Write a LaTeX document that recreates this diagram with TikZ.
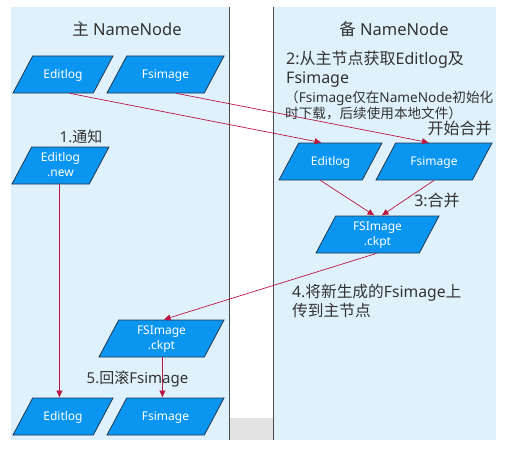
\documentclass[tikz,border=0pt]{standalone}
\usepackage{fontspec}
\setmainfont{Noto Sans}
\newfontfamily\zhfont{Noto Sans CJK SC}
\newcommand{\zh}[1]{{\zhfont #1}}
\usetikzlibrary{shapes.geometric,arrows.meta}
\definecolor{panelblue}{HTML}{DFF1FB}
\definecolor{boxblue}{HTML}{0A96F0}
\definecolor{boxline}{HTML}{23384F}
\definecolor{arrowred}{HTML}{BC1640}
\definecolor{txtgray}{HTML}{333333}

\begin{document}
\begin{tikzpicture}[x=1pt,y=-1pt]
        \tikzstyle{fnode} = [trapezium, trapezium left angle=62, trapezium right angle=118, trapezium stretches body, draw=boxline, fill=boxblue, line width=0.8pt, text=white, font=\fontsize{12}{14.5}\selectfont, align=center, inner xsep=1pt, inner ysep=0pt, text height=22.5pt, text depth=14.5pt, minimum height=37pt]
        \tikzstyle{fnodeii} = [fnode, text height=29pt, text depth=8pt]
        \tikzstyle{flow} = [draw=arrowred, line width=0.7pt, -{Latex[length=7pt,width=6.5pt]}]
        \tikzstyle{lbl} = [text=txtgray, font=\fontsize{15.7}{19.5}\selectfont, inner sep=0pt]

        \useasboundingbox (0,0) rectangle (508,452);
        % two lanes
        \fill[panelblue] (11,7) rectangle (229,440);
        \fill[panelblue] (273,7) rectangle (496,440);
        \fill[black!11] (229,418) rectangle (273,440);
        \draw[line width=1pt, black!70] (229,7) -- (229,440);
        \draw[line width=1pt, black!70] (273,7) -- (273,440);

        \node[lbl, font=\fontsize{16.5}{19}\selectfont] (titleA) at (127,29) {\zh{主} NameNode};
        \node[lbl, font=\fontsize{16.5}{19}\selectfont] (titleB) at (394,29) {\zh{备} NameNode};

        \node[fnode, minimum width=100pt] (editA) at (63,74.5) {Editlog};
        \node[fnode, minimum width=117pt] (fsA) at (165.5,74.5) {Fsimage};
        \node[fnodeii, minimum width=97pt] (editNew) at (60.5,165.5) {Editlog\\.new};
        \node[fnode, minimum width=103pt] (editB) at (330.5,161.5) {Editlog};
        \node[fnode, minimum width=116pt] (fsB) at (434,161.5) {Fsimage};
        \node[fnodeii, minimum width=123pt] (ckptB) at (377.5,234.5) {FSImage\\.ckpt};
        \node[fnodeii, minimum width=125pt] (ckptA) at (161.5,338.5) {FSImage\\.ckpt};
        \node[fnode, minimum width=100pt] (editC) at (63,416.5) {Editlog};
        \node[fnode, minimum width=117pt] (fsC) at (165.5,416.5) {Fsimage};

        \draw[flow] ([xshift=17pt]editA.bottom side) -- ([xshift=-19pt]editB.top side);
        \draw[flow] ([xshift=21pt]fsA.bottom side) -- ([xshift=-15pt]fsB.top side);
        \draw[flow] ([xshift=9pt]editNew.bottom side) coordinate (newout) -- (newout |- editC.top side);
        \draw[flow] (editB.bottom side) -- ([xshift=-13pt]ckptB.top side);
        \draw[flow] ([xshift=10pt]fsB.bottom side) -- ([xshift=-6pt]ckptB.top side);
        \draw[flow] ([xshift=9pt]ckptB.bottom side) -- ([xshift=-8pt]ckptA.top side);
        \draw[flow] ([xshift=11pt]ckptA.bottom side) coordinate (ckptout) -- (ckptout |- fsC.top side);

        \node[lbl, font=\fontsize{15}{18}\selectfont] (step1) at (81,137) {1.\zh{通知}};
        \node[lbl, font=\fontsize{16}{19}\selectfont, anchor=west, align=left] (step2) at (286,69.5) {2:\zh{从主节点获取}Editlog\zh{及}\\Fsimage};
        \node[lbl, font=\fontsize{13.6}{16}\selectfont, anchor=west, align=left] (step2note) at (285,105) {\zh{（}Fsimage\zh{仅在}NameNode\zh{初始化}\\\zh{时下载，后续使用本地文件）}};
        \node[lbl, font=\fontsize{16}{19}\selectfont] (merge) at (459.5,128) {\zh{开始合并}};
        \node[lbl, font=\fontsize{16}{19}\selectfont] (step3) at (437,200) {3:\zh{合并}};
        \node[lbl, anchor=west, align=left] (step4) at (292,301) {4.\zh{将新生成的}Fsimage\zh{上}\\\zh{传到主节点}};
        \node[lbl, font=\fontsize{15}{18}\selectfont] (step5) at (137.5,379) {5.\zh{回滚}Fsimage};
\end{tikzpicture}
\end{document}
